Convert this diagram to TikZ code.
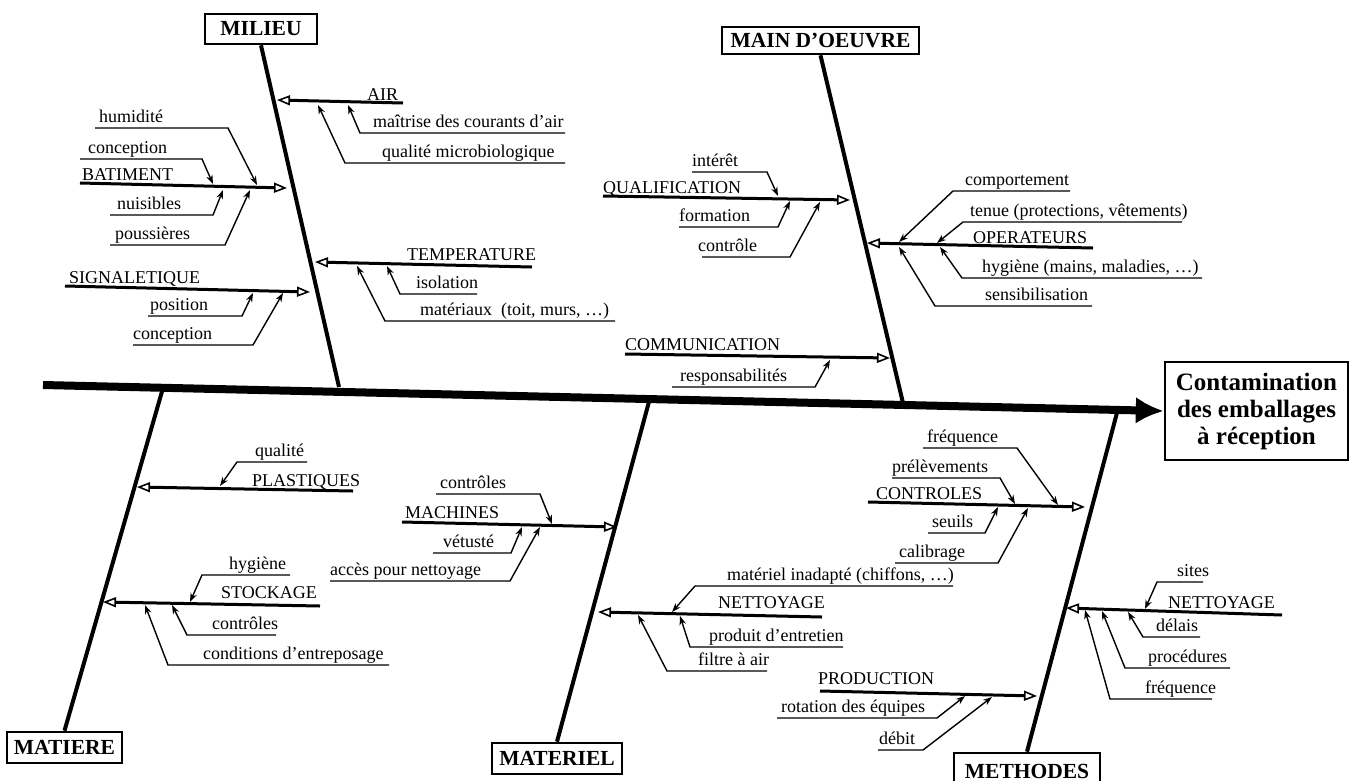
\documentclass[tikz,border=0pt]{standalone}
\usepackage{fontspec}
\setmainfont{Liberation Serif}
\usetikzlibrary{arrows.meta}

% sub item: name, text, left x, underline y, far x, corner x, tip x, tip y
\newcommand\fbsub[8]{%
  \node[lbl] (#1) at (#3,#4-6) {#2};
  \coordinate (#1-f) at (#5,#4);
  \coordinate (#1-c) at (#6,#4);
  \coordinate (#1-t) at (#7,#8);
  \draw[subline] (#1-f) -- (#1-c) -- (#1-t);
}
% category: name, text, left x, baseline y, start x, start y, tip x, tip y
\newcommand\fbcat[8]{%
  \node[lbl] (#1) at (#3,#4) {#2};
  \coordinate (#1-s) at (#5,#6);
  \coordinate (#1-t) at (#7,#8);
  \draw[catline] (#1-s) -- (#1-t);
}

\tikzset{
  lbl/.style={anchor=base west, inner sep=0pt, font=\fontsize{18}{20}\selectfont},
  subline/.style={line width=1.4pt, -{Stealth[length=9pt,width=6.5pt]}},
  catline/.style={line width=3pt, -{Triangle[open,length=13pt,width=10pt,line width=1.6pt]}},
  bone/.style={line width=4pt},
  spine/.style={line width=8pt, -{Latex[length=28pt,width=27pt]}},
  catbox/.style={draw, line width=2.6pt, inner sep=0pt, font=\fontsize{21.5}{24}\selectfont\bfseries},
}

\begin{document}
\begin{tikzpicture}[x=1pt,y=-1pt]
\useasboundingbox (0,0) rectangle (1357,780);
\clip (0,0) rectangle (1357,780);

% boxes
\node[catbox, minimum width=112pt, minimum height=30pt] (milieu) at (261,29) {MILIEU};
\node[catbox, minimum width=197pt, minimum height=27pt] (mo) at (820.5,40.5) {MAIN D’OEUVRE};
\node[catbox, minimum width=115pt, minimum height=31pt] (matiere) at (64.5,747.5) {MATIERE};
\node[catbox, minimum width=130pt, minimum height=31pt] (materiel) at (557,758.5) {MATERIEL};
\node[catbox, minimum width=146pt, minimum height=36pt] (methodes) at (1027,771) {METHODES};
\node[draw, line width=2.4pt, minimum width=183pt, minimum height=98pt, inner sep=0pt, align=center,
      font=\fontsize{25}{27}\selectfont\bfseries] (effect) at (1256.5,411)
      {Contamination\\des emballages\\à réception};

% spine
\coordinate (spine0) at (43,385);
\draw[spine] (spine0) -- (effect.west);

% bones
\coordinate (sp1) at (339,387);
\coordinate (sp2) at (903,403);
\coordinate (sp3) at (163,388);
\coordinate (sp4) at (650,398);
\coordinate (sp5) at (1118,409);
\draw[bone] (milieu.south) -- (sp1);
\draw[bone] (mo.south) -- (sp2);
\draw[bone] (sp3) -- (matiere.north);
\draw[bone] (sp4) -- (materiel.north);
\draw[bone] (sp5) -- (methodes.north);

% ---------- MILIEU ----------
\fbcat{air}{AIR}{367}{100}{403}{103}{277}{100}
\fbsub{air1}{maîtrise des courants d’air}{373}{133}{565}{360}{348}{105}
\fbsub{air2}{qualité microbiologique}{382}{163}{565}{345}{318}{105}

\fbcat{bat}{BATIMENT}{82}{180}{80}{183}{287}{188}
\fbsub{bat1}{humidité}{99}{128}{95}{228}{257}{185}
\fbsub{bat2}{conception}{88}{159}{80}{202}{213}{184}
\fbsub{bat3}{nuisibles}{117}{215}{110}{213}{223}{190}
\fbsub{bat4}{poussières}{115}{245}{110}{225}{250}{190}

\fbcat{temp}{TEMPERATURE}{407}{260}{532}{267}{315}{262}
\fbsub{temp1}{isolation}{416}{294}{477}{400}{387}{266}
\fbsub{temp2}{matériaux~ (toit, murs, …)}{420}{321}{615}{385}{357}{266}

\fbcat{sig}{SIGNALETIQUE}{69}{283}{65}{286}{310}{292}
\fbsub{sig1}{position}{150}{316}{148}{242}{253}{293}
\fbsub{sig2}{conception}{133}{345}{133}{253}{283}{293}

% ---------- MAIN D'OEUVRE ----------
\fbcat{qual}{QUALIFICATION}{603}{193}{603}{196}{850}{200}
\fbsub{qual1}{intérêt}{692}{172}{692}{767}{778}{196}
\fbsub{qual2}{formation}{679}{227}{679}{778}{790}{201}
\fbsub{qual3}{contrôle}{698}{257}{702}{790}{820}{202}

\fbcat{com}{COMMUNICATION}{625}{350}{625}{354}{890}{358}
\fbsub{com1}{responsabilités}{680}{387}{672}{815}{830}{360}

\fbcat{op}{OPERATEURS}{973}{243}{1093}{248}{867}{243}
\fbsub{op1}{comportement}{965}{191}{1070}{953}{899}{242}
\fbsub{op2}{tenue (protections, vêtements)}{970}{222}{1182}{963}{937}{243}
\fbsub{op3}{hygiène (mains, maladies, …)}{982}{278}{1202}{962}{940}{247}
\fbsub{op4}{sensibilisation}{985}{306}{1092}{935}{899}{247}

% ---------- MATIERE ----------
\fbcat{pla}{PLASTIQUES}{252}{486}{353}{491}{137}{487}
\fbsub{pla1}{qualité}{255}{462}{307}{237}{220}{486}

\fbcat{sto}{STOCKAGE}{221}{598}{320}{606}{103}{602}
\fbsub{sto1}{hygiène}{229}{575}{290}{202}{190}{602}
\fbsub{sto2}{contrôles}{212}{635}{276}{187}{172}{605}
\fbsub{sto3}{conditions d’entreposage}{203}{665}{389}{168}{145}{605}

% ---------- MATERIEL ----------
\fbcat{mac}{MACHINES}{405}{518}{402}{522}{617}{527}
\fbsub{mac1}{contrôles}{440}{494}{436}{540}{552}{524}
\fbsub{mac2}{vétusté}{443}{553}{433}{511}{522}{527}
\fbsub{mac3}{accès pour nettoyage}{330}{581}{330}{510}{540}{527}

\fbcat{net}{NETTOYAGE}{718}{608}{822}{617}{598}{612}
\fbsub{net1}{matériel inadapté (chiffons, …)}{727}{586}{953}{695}{672}{612}
\fbsub{net2}{produit d’entretien}{709}{647}{843}{690}{680}{616}
\fbsub{net3}{filtre à air}{698}{671}{767}{667}{638}{615}

% ---------- METHODES ----------
\fbcat{ctl}{CONTROLES}{876}{499}{868}{502}{1085}{507}
\fbsub{ctl1}{fréquence}{927}{448}{923}{1017}{1058}{505}
\fbsub{ctl2}{prélèvements}{892}{478}{892}{1000}{1015}{504}
\fbsub{ctl3}{seuils}{932}{533}{928}{985}{998}{507}
\fbsub{ctl4}{calibrage}{899}{563}{895}{998}{1028}{508}

\fbcat{prod}{PRODUCTION}{818}{684}{820}{691}{1037}{696}
\fbsub{prod1}{rotation des équipes}{781}{718}{777}{937}{965}{696}
\fbsub{prod2}{débit}{879}{750}{878}{923}{992}{697}

\fbcat{mnet}{NETTOYAGE}{1168}{608}{1282}{615}{1066}{608}
\fbsub{mnet1}{sites}{1177}{582}{1203}{1157}{1145}{609}
\fbsub{mnet2}{délais}{1156}{637}{1200}{1143}{1128}{612}
\fbsub{mnet3}{procédures}{1148}{668}{1230}{1125}{1102}{611}
\fbsub{mnet4}{fréquence}{1145}{699}{1212}{1110}{1085}{610}
\end{tikzpicture}
\end{document}
